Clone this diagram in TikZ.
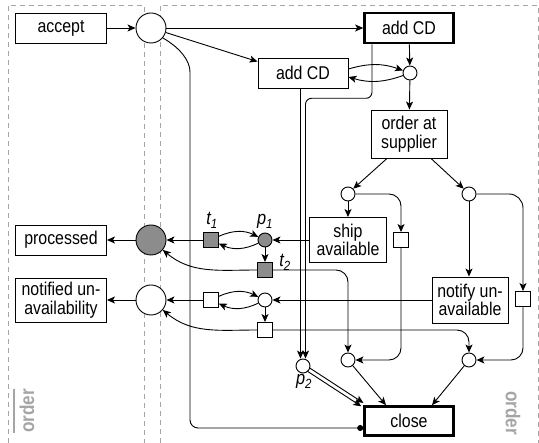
\documentclass[tikz,border=0pt]{standalone}
\usepackage{fontspec}
\setmainfont[FakeStretch=0.86]{Liberation Sans}
\usetikzlibrary{arrows.meta,calc}
\definecolor{tokgray}{RGB}{140,140,140}
\definecolor{lanegray}{RGB}{165,165,165}

\begin{document}
\begin{tikzpicture}[
        x=1pt, y=1pt,
        line width=0.9pt,
        every node/.style={font=\fontsize{18.5}{18.5}\selectfont},
        task/.style={draw, rectangle, minimum width=91pt, minimum height=30pt, align=center, inner sep=1pt},
        bigtask/.style={task, line width=2.6pt, minimum width=89pt},
        place/.style={draw, circle, fill=white, minimum size=14pt, inner sep=0pt},
        bigplace/.style={place, minimum size=30pt},
        trans/.style={draw, rectangle, fill=white, minimum size=15pt, inner sep=0pt},
        marked/.style={fill=tokgray},
        arc/.style={-{Stealth[length=8pt,width=7pt,inset=2pt]}},
        reset/.style={-{Circle[length=6pt]}},
        lane/.style={draw=lanegray, dash pattern=on 5pt off 4pt, line width=0.8pt},
        lanelabel/.style={text=lanegray, font=\fontsize{20}{20}\selectfont\bfseries},
        tag/.style={font=\fontsize{19}{19}\selectfont\itshape, anchor=base, inner sep=0pt},
    ]
    \useasboundingbox (0,0) rectangle (539,-443);

    % lanes
    \draw[lane] (8,-443) |- (144,-5) -- (144,-443);
    \draw[lane] (160,-443) |- (538,-5) -- (538,-443);
    \node[lanelabel, rotate=90, inner sep=0pt] (orderin) at (27,-411) {order};
    \draw[draw=lanegray, line width=1.1pt] ([xshift=-13pt]orderin.west) -- ([xshift=-13pt]orderin.east);
    \node[lanelabel, rotate=-90] (orderout) at (513,-413) {order};

    % left lane
    \node[task] (accept) at (61,-28) {accept};
    \node[task] (processed) at (61,-240) {processed};
    \node[task, minimum height=44pt] (notified) at (61,-300) {notified un-\\availability};

    % right lane
    \node[bigplace] (start) at (151,-28) {};
    \node[bigtask] (addcd) at (409,-28) {add CD};
    \node[task, minimum width=90pt] (addcdb) at (303,-73) {add CD};
    \node[place] (pa) at (410,-73) {};
    \node[task, minimum width=76pt, minimum height=48pt] (order) at (409,-134) {order at\\supplier};
    \node[place] (pb) at (348,-194) {};
    \node[place] (pc) at (469,-194) {};
    \node[task, minimum width=77pt, minimum height=45pt] (ship) at (348,-240) {ship\\available};
    \node[trans] (tb) at (401,-240) {};
    \node[task, minimum width=76pt, minimum height=46pt] (notify) at (470,-300) {notify un-\\available};
    \node[trans] (tc) at (523,-299) {};
    \node[bigplace, marked] (endg) at (151,-240) {};
    \node[trans, marked] (t1) at (211,-240) {};
    \node[place, marked] (p1) at (265,-240) {};
    \node[trans, marked] (t2) at (265,-270) {};
    \node[bigplace] (endw) at (151,-300) {};
    \node[trans] (tw1) at (211,-300) {};
    \node[place] (pw) at (265,-300) {};
    \node[trans] (tw2) at (265,-330) {};
    \node[place] (p2) at (303,-366) {};
    \node[place] (pd) at (348,-360) {};
    \node[place] (pe) at (469,-360) {};
    \node[bigtask, minimum height=29pt] (close) at (409,-421) {close};

    \node[tag] (lt1) at (212,-225) {t\textsubscript{1}};
    \node[tag] (lp1) at (265,-225) {p\textsubscript{1}};
    \node[tag] (lt2) at (285,-267) {t\textsubscript{2}};
    \node[tag] (lp2) at (304,-385) {p\textsubscript{2}};

    % arcs
    \draw[arc] (accept) -- (start);
    \draw[arc] (start) -- (addcd);
    \draw[arc] (start.-17) -- ([yshift=-4pt]addcdb.north west);
    \draw[reset, rounded corners=8pt] (start.-40) to[out=-30,in=90] (190,-80) -- (190,-428) -- ([yshift=-7pt]close.west);
    \draw[arc] (addcd) -- (pa);
    \draw[arc] ([yshift=4pt]addcdb.east) to[bend left=18] (pa.160);
    \draw[arc] (pa.200) to[bend left=18] ([yshift=-4pt]addcdb.east);
    \draw[arc] (pa) -- (order);
    \draw[arc, rounded corners=6pt] ([xshift=-37pt]addcd.south) -- ++(0,-54) -| ([xshift=2.5pt]p2.north);
    \draw[arc] ([xshift=-2.5pt]addcdb.south) -- ([xshift=-2.5pt]p2.north);
    \draw[arc] ([xshift=-22pt]order.south) -- (pb.45);
    \draw[arc] ([xshift=22pt]order.south) -- (pc.135);
    \draw[arc] (pb) -- (ship);
    \draw[arc] (pc) -- (pc |- notify.north);
    \draw[arc, rounded corners=12pt] (pb.east) -| (tb.north);
    \draw[arc, rounded corners=14pt] (pc.east) -| (tc.north);
    \draw[arc] (ship) -- (p1);
    \draw[arc] (notify) -- (pw);
    \draw[arc] (t1.25) to[bend left=25] (p1.155);
    \draw[arc] (p1.205) to[bend left=25] (t1.-25);
    \draw[arc] (tw1.25) to[bend left=25] (pw.155);
    \draw[arc] (pw.205) to[bend left=25] (tw1.-25);
    \draw[arc] (t1) -- (endg);
    \draw[arc] (tw1) -- (endw);
    \draw[arc] (p1) -- (t2);
    \draw[arc] (pw) -- (tw2);
    \draw[arc] (endg) -- (processed);
    \draw[arc] (endw) -- (notified);
    \draw[arc] (t2.west) to[out=180,in=-40] (endg.-40);
    \draw[arc] (tw2.west) to[out=180,in=-40] (endw.-40);
    \draw[arc, rounded corners=12pt] (t2.east) -| (pd.north);
    \draw[arc, rounded corners=12pt] (tw2.east) -| (pe.north);
    \draw[arc, rounded corners=12pt] (tb.south) |- (pd.east);
    \draw[arc, rounded corners=12pt] (tc.south) |- (pe.east);
    \draw[arc] (pd) -- ([xshift=-23pt]close.north);
    \draw[arc] (pe) -- ([xshift=23pt]close.north);
    \draw[arc, shorten <=6pt, shorten >=1pt] ($(p2.center)!2pt!90:(close.north west)$) -- ($(close.north west)!2pt!-90:(p2.center)$);
    \draw[arc, shorten <=6pt, shorten >=1pt] ($(p2.center)!2pt!-90:(close.north west)$) -- ($(close.north west)!2pt!90:(p2.center)$);
\end{tikzpicture}
\end{document}
